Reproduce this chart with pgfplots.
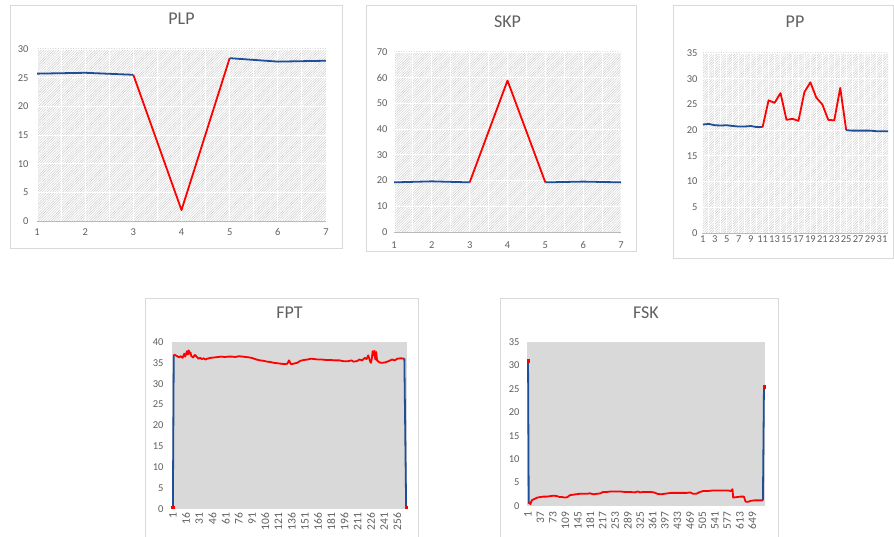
\documentclass[border=0pt]{standalone}
\usepackage{fontspec}
\setmainfont{Carlito}
\usepackage{pgfplots}
\pgfplotsset{compat=1.18}
\usetikzlibrary{patterns.meta}

\definecolor{serblue}{RGB}{31,78,152}
\definecolor{serred}{RGB}{255,0,0}
\definecolor{txt}{RGB}{96,96,96}
\definecolor{framecol}{RGB}{217,217,217}
\definecolor{plotgray}{RGB}{217,217,217}

\pgfplotsset{
  panel/.style={
    scale only axis,
    anchor=south west,
    axis x line*=bottom, axis y line*=left,
    y axis line style={draw=none},
    x axis line style={draw=gray!55,-},
    major tick length=0pt, minor tick length=0pt,
    tick style={draw=none},
    ticklabel style={font=\fontsize{10.5}{11}\selectfont, text=txt},
    /pgf/number format/assume math mode=true,
    title style={font=\fontsize{18}{19}\selectfont, text=txt, at={(0.5,1)}, anchor=center},
    grid=both,
    major grid style={white, line width=0.9pt},
    minor grid style={white, line width=0.9pt},
  },
  hatched/.style={axis background/.style={fill=white,
      postaction={pattern={Lines[angle=45,distance=1.8pt,line width=0.45pt]}, pattern color=gray!40}}},
  solidbg/.style={axis background/.style={fill=plotgray}, grid=none,
      x axis line style={draw=none}},
  blueline/.style={serblue, line width=1.8pt, no markers, line join=round},
  redline/.style={serred, line width=1.8pt, no markers, line join=round},
  enddot/.style={only marks, mark=square*, mark size=1.2pt, serred},
}

\begin{document}
\begin{tikzpicture}
\useasboundingbox (0,0) rectangle (894pt,537pt);

% panel frames
\draw[framecol, fill=white, line width=0.8pt] (10pt,289pt) rectangle (342pt,532pt);
\draw[framecol, fill=white, line width=0.8pt] (366pt,286pt) rectangle (636pt,532pt);
\draw[framecol, fill=white, line width=0.8pt] (673pt,279pt) rectangle (893.5pt,532pt);
\draw[framecol, fill=white, line width=0.8pt] (145pt,-3pt) rectangle (418pt,239pt);
\draw[framecol, fill=white, line width=0.8pt] (500pt,-3pt) rectangle (778pt,239pt);

% PLP
\begin{axis}[panel, hatched, at={(37pt,316pt)}, width=289pt, height=172pt,
  xmin=1, xmax=7, ymin=0, ymax=30,
  xtick={1,...,7}, ytick={0,5,...,30}, minor x tick num=1,
  title={PLP}, title style={yshift=24pt},
  xticklabel style={yshift=-4pt}, yticklabel style={xshift=-5pt}]
\addplot[blueline] coordinates {(1,25.7)(2,25.85)(3,25.5)};
\addplot[redline] coordinates {(3,25.5)(4,1.9)(5,28.4)};
\addplot[blueline] coordinates {(5,28.4)(6,27.8)(7,27.95)};
\end{axis}

% SKP
\begin{axis}[panel, hatched, at={(394pt,305pt)}, width=227pt, height=180pt,
  xmin=1, xmax=7, ymin=0, ymax=70,
  xtick={1,...,7}, ytick={0,10,...,70}, minor x tick num=1,
  title={SKP}, title style={yshift=24pt},
  xticklabel style={yshift=-6pt}, yticklabel style={xshift=-3pt}]
\addplot[blueline] coordinates {(1,19.3)(2,19.7)(3,19.3)};
\addplot[redline] coordinates {(3,19.3)(4,58.9)(5,19.3)};
\addplot[blueline] coordinates {(5,19.3)(6,19.6)(7,19.3)};
\end{axis}

% PP
\begin{axis}[panel, hatched, at={(702pt,304pt)}, width=186pt, height=180pt,
  xmin=0.85, xmax=32, ymin=0, ymax=35,
  xtick={1,3,...,31}, ytick={0,5,...,35}, minor x tick num=1,
  title={PP}, title style={yshift=25pt},
  xticklabel style={yshift=1pt}, yticklabel style={xshift=-1pt}]
\addplot[blueline] coordinates {(1,21.1)(2,21.2)(3,20.95)(4,20.9)(5,20.95)(6,20.8)
  (7,20.7)(8,20.7)(9,20.8)(10,20.6)(11,20.6)};
\addplot[redline] coordinates {(11,20.6)(12,25.8)(13,25.3)(14,27.2)(15,22.0)(16,22.2)
  (17,21.8)(18,27.4)(19,29.3)(20,26.3)(21,25.0)(22,22.0)(23,21.9)(24,28.2)(25,20.0)};
\addplot[blueline] coordinates {(25,20.0)(26,19.9)(27,19.9)(28,19.9)(29,19.9)
  (30,19.8)(31,19.8)(32,19.8)};
\end{axis}

% FPT
\begin{axis}[panel, solidbg, at={(172pt,28pt)}, width=235pt, height=167pt,
  xmin=0, xmax=267, ymin=0, ymax=40,
  xtick={1,16,...,256}, ytick={0,5,...,40},
  title={FPT}, title style={yshift=23pt},
  xticklabel style={rotate=90, anchor=east, font=\fontsize{11.5}{12}\selectfont},
  yticklabel style={xshift=-5pt}]
\addplot[blueline] coordinates {(1,0.5)(2,37.0)};
\addplot[redline] coordinates {
  (2,37.0)(4,36.8)(6,36.6)(8,36.3)(10,36.6)(12,36.2)(14,37.2)(15,36.5)(17,37.8)
  (18,37.0)(19,38.0)(20,37.2)(21,37.5)(22,36.6)(24,36.3)(26,36.9)(28,36.5)(30,36.0)
  (32,36.2)(34,35.9)(36,36.1)(38,35.8)(40,36.0)(44,36.2)(48,36.3)(52,36.4)(56,36.5)
  (60,36.4)(64,36.5)(68,36.5)(72,36.4)(76,36.6)(80,36.5)(84,36.4)(88,36.3)(92,36.1)
  (96,35.8)(100,35.6)(104,35.5)(108,35.3)(112,35.2)(116,35.0)(120,34.9)(124,34.8)
  (128,34.7)(131,34.8)(133,35.6)(135,34.7)(138,34.8)(142,35.0)(146,35.5)(150,35.7)
  (154,35.8)(158,36.0)(162,35.9)(166,35.8)(170,35.8)(175,35.7)(180,35.7)(185,35.6)
  (190,35.6)(195,35.4)(200,35.4)(204,35.6)(206,35.3)(210,35.4)(213,35.8)(216,35.6)
  (219,36.2)(221,35.9)(223,36.8)(225,35.4)(226,35.0)(227,36.0)(228,37.8)(229,36.8)
  (230,37.9)(231,35.8)(232,37.6)(233,35.6)(235,35.2)(238,35.0)(242,35.1)(246,35.4)
  (250,35.8)(253,35.6)(256,36.0)(260,36.1)(263,36.0)(264,36.1)};
\addplot[blueline] coordinates {(264,36.1)(266,0.5)};
\addplot[enddot] coordinates {(1,0.5)(266,0.5)};
\end{axis}

% FSK
\begin{axis}[panel, solidbg, at={(527pt,31pt)}, width=238pt, height=164pt,
  xmin=-2, xmax=686, ymin=0, ymax=35,
  xtick={1,37,...,649}, ytick={0,5,...,35},
  title={FSK}, title style={yshift=23pt},
  xticklabel style={rotate=90, anchor=east, xshift=-2pt, font=\fontsize{11.5}{12}\selectfont},
  yticklabel style={xshift=-4pt}]
\addplot[blueline] coordinates {(1,31.0)(3,0.5)};
\addplot[redline] coordinates {
  (3,0.5)(5,0.7)(8,0.4)(10,0.9)(13,1.3)(17,1.4)(22,1.6)(28,1.8)(36,1.9)(45,2.0)
  (55,2.0)(65,2.1)(75,2.2)(85,2.1)(93,1.9)(100,1.9)(108,1.8)(115,1.9)(122,2.3)
  (130,2.4)(140,2.5)(150,2.6)(160,2.6)(170,2.6)(180,2.7)(190,2.5)(200,2.6)(210,2.7)
  (218,3.0)(230,3.0)(240,3.1)(255,3.1)(267,3.1)(280,3.0)(295,3.0)(310,2.9)(318,3.1)
  (325,2.9)(335,3.0)(345,3.0)(355,3.0)(365,2.9)(375,2.6)(385,2.5)(395,2.6)(405,2.7)
  (415,2.8)(430,2.8)(445,2.8)(460,2.8)(470,2.9)(478,2.6)(487,2.6)(495,2.9)(507,3.2)
  (520,3.2)(535,3.3)(550,3.3)(565,3.3)(580,3.3)(588,3.2)(592,3.6)(594,1.8)(605,1.9)
  (615,2.0)(625,2.0)(630,0.9)(638,0.9)(645,1.1)(655,1.2)(670,1.2)(680,1.2)};
\addplot[blueline] coordinates {(680,1.2)(683,25.5)};
\addplot[enddot] coordinates {(1,31.0)(683,25.5)};
\end{axis}
\end{tikzpicture}
\end{document}
